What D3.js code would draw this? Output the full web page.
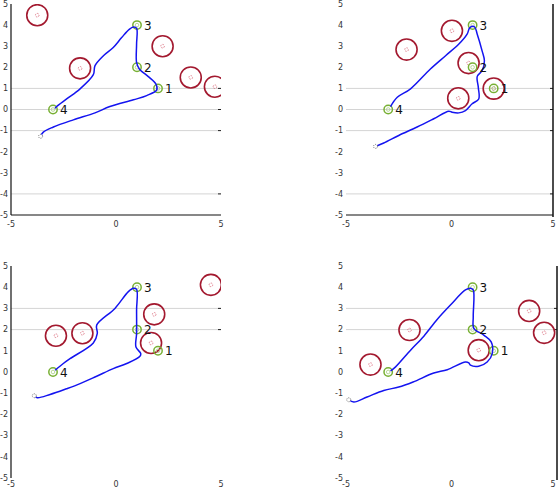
<!DOCTYPE html>
<html>
<head>
<meta charset="utf-8">
<script src="https://cdn.jsdelivr.net/npm/d3@7"></script>
<style>
  body { margin: 0; background: #fff; }
  svg { display: block; }
</style>
</head>
<body>
<div id="chart"></div>
<script>
// waypoints shared by all four runs
const waypoints = [[2, 1], [1, 2], [1, 4], [-3, 0]];
const waypointLabels = ["1", "2", "3", "4"];

const xTicks = [-5, 0, 5];
const yTicks = [5, 4, 3, 2, 1, 0, -1, -2, -3, -4, -5];

// obstacles (centre x, y) per panel
const obstaclesA = [[-3.75, 4.47], [-1.71, 1.95], [2.22, 3.0], [3.56, 1.52], [4.71, 1.08]];
const obstaclesB = [[-2.13, 2.84], [0.02, 3.73], [0.81, 2.2], [2.0, 0.99], [0.32, 0.53]];
const obstaclesC = [[4.52, 4.11], [1.82, 2.72], [1.67, 1.37], [-1.6, 1.83], [-2.86, 1.71]];
const obstaclesD = [[-3.84, 0.35], [-1.99, 1.98], [1.29, 1.03], [3.68, 2.88], [4.39, 1.85]];

// flown trajectory per panel
const pathA = [[-3.59, -1.27], [-3.46, -1.07], [-2.98, -0.83], [-2.03, -0.49], [-1.0, -0.16], [-0.29, 0.14],
  [0.83, 0.46], [1.46, 0.66], [1.94, 0.93], [1.90, 1.21], [1.54, 1.56], [1.11, 1.92], [0.98, 2.23],
  [0.98, 3.1], [0.98, 3.85], [0.83, 3.91], [0.63, 3.80], [0.27, 3.41], [-0.13, 2.94], [-0.6, 2.55],
  [-1.0, 2.08], [-1.08, 1.65], [-1.71, 0.98], [-2.35, 0.5], [-2.83, 0.14], [-2.9, 0.05]];
const pathB = [[-3.6, -1.75], [-3.21, -1.59], [-2.5, -1.23], [-1.63, -0.83], [-0.84, -0.44], [-0.13, -0.08],
  [0.03, -0.13], [0.35, -0.16], [0.66, -0.05], [0.98, 0.27], [1.29, 0.5], [1.27, 1.05], [1.22, 1.57],
  [1.45, 1.84], [1.56, 2.31], [1.45, 2.78], [1.22, 3.57], [1.09, 3.92], [0.87, 3.88], [0.74, 3.57],
  [0.35, 3.1], [-0.28, 2.55], [-1.0, 1.92], [-1.94, 0.98], [-2.57, 0.58], [-2.89, 0.14]];
const pathC = [[-3.89, -1.12], [-3.75, -1.21], [-3.14, -1.06], [-2.35, -0.79], [-1.71, -0.55], [-0.92, -0.2],
  [-0.13, 0.16], [0.51, 0.4], [1.14, 0.74], [1.18, 0.87], [0.95, 1.18], [0.98, 1.82], [0.98, 2.92],
  [0.98, 3.9], [0.83, 3.95], [0.59, 3.79], [-0.05, 3.0], [-0.92, 2.21], [-0.89, 1.82], [-1.08, 1.37],
  [-2.19, 0.63], [-2.51, 0.4], [-2.9, 0.08]];
const pathD = [[-4.87, -1.31], [-4.63, -1.42], [-4.0, -1.18], [-3.21, -0.87], [-2.5, -0.71], [-1.82, -0.47],
  [-0.84, -0.05], [-0.2, 0.11], [0.66, 0.47], [0.82, 0.43], [0.9, 0.32], [1.29, 0.27], [1.69, 0.47],
  [1.93, 0.87], [1.88, 1.42], [1.53, 1.74], [1.06, 2.06], [1.03, 2.61], [1.03, 3.87], [0.9, 3.95],
  [0.66, 3.87], [-0.05, 3.16], [-0.68, 2.48], [-1.31, 1.69], [-1.94, 1.03], [-2.65, 0.24], [-2.89, 0.05]];

const gridA = [1, 0, -1, -4];
const gridC = [3, 2];

const panels = [
  { id: "a", x: [11, 221], y: [215, 4], obstacles: obstaclesA, path: pathA, grid: gridA,
    left: true, bottom: true, right: false, gridEnd: 221, labY: 227 },
  { id: "b", x: [346, 557], y: [215, 4], obstacles: obstaclesB, path: pathB, grid: gridA,
    left: false, bottom: true, right: 553, gridEnd: 553, labY: 227 },
  { id: "c", x: [11, 221], y: [478, 266], obstacles: obstaclesC, path: pathC, grid: gridC,
    left: true, bottom: false, right: false, gridEnd: 221, labY: 487 },
  { id: "d", x: [346, 557], y: [478, 266], obstacles: obstaclesD, path: pathD, grid: gridC,
    left: false, bottom: false, right: 557, gridEnd: 557, labY: 487 }
];

const font = "'DejaVu Sans', sans-serif";

const svg = d3.select("#chart").append("svg")
  .attr("width", 558)
  .attr("height", 488);

panels.forEach(p => {
  const x = d3.scaleLinear().domain([-5, 5]).range(p.x);
  const y = d3.scaleLinear().domain([-5, 5]).range(p.y);
  const g = svg.append("g");

  g.append("clipPath").attr("id", "clip-" + p.id)
    .append("rect")
    .attr("x", p.x[0]).attr("y", p.y[1])
    .attr("width", p.gridEnd - p.x[0]).attr("height", p.y[0] - p.y[1]);

  // grid lines with a short dark tick at the right end
  g.selectAll(".grid").data(p.grid).enter().append("line")
    .attr("x1", p.x[0]).attr("x2", p.gridEnd)
    .attr("y1", d => y(d)).attr("y2", d => y(d))
    .attr("stroke", "#d4d4d4").attr("stroke-width", 1);
  g.selectAll(".gtick").data(p.grid).enter().append("line")
    .attr("x1", p.gridEnd - 3).attr("x2", p.gridEnd)
    .attr("y1", d => y(d)).attr("y2", d => y(d))
    .attr("stroke", "#222").attr("stroke-width", 1);

  // spines
  if (p.left) g.append("line").attr("x1", p.x[0]).attr("x2", p.x[0])
    .attr("y1", p.y[1]).attr("y2", p.y[0]).attr("stroke", "#111").attr("stroke-width", 1.2);
  if (p.bottom) g.append("line").attr("x1", p.x[0]).attr("x2", p.gridEnd)
    .attr("y1", p.y[0]).attr("y2", p.y[0]).attr("stroke", "#111").attr("stroke-width", 1.2);
  if (p.right) g.append("line").attr("x1", p.right).attr("x2", p.right)
    .attr("y1", p.y[1]).attr("y2", p.y[0] + 2).attr("stroke", "#111").attr("stroke-width", 1.5);

  // tick labels
  g.selectAll(".ylab").data(yTicks).enter().append("text")
    .attr("x", p.x[0] - 3).attr("y", d => y(d))
    .attr("dy", "0.35em").attr("text-anchor", "end")
    .style("font-family", font).style("font-size", "8px").style("fill", "#333")
    .text(d => d < 0 ? "-" + Math.abs(d) : d);
  g.selectAll(".xlab").data(xTicks).enter().append("text")
    .attr("x", d => Math.min(x(d), 553)).attr("y", p.labY)
    .attr("text-anchor", "middle")
    .style("font-family", font).style("font-size", "8px").style("fill", "#333")
    .text(d => d < 0 ? "-" + Math.abs(d) : d);

  const plot = g.append("g").attr("clip-path", "url(#clip-" + p.id + ")");

  // obstacles
  const r = x(0.5) - x(0);
  plot.selectAll(".obs").data(p.obstacles).enter().append("circle")
    .attr("cx", d => x(d[0])).attr("cy", d => y(d[1])).attr("r", r)
    .attr("fill", "none").attr("stroke", "#a3192f").attr("stroke-width", 1.6);
  plot.selectAll(".obsc").data(p.obstacles).enter().append("circle")
    .attr("cx", d => x(d[0])).attr("cy", d => y(d[1])).attr("r", 1.8)
    .attr("fill", "none").attr("stroke", "#d96a7a").attr("stroke-width", 0.8)
    .attr("stroke-dasharray", "1.5,1");

  // waypoints
  plot.selectAll(".wp").data(waypoints).enter().append("circle")
    .attr("cx", d => x(d[0])).attr("cy", d => y(d[1])).attr("r", 4.2)
    .attr("fill", "none").attr("stroke", "#78b034").attr("stroke-width", 1.5);
  plot.selectAll(".wpc").data(waypoints).enter().append("circle")
    .attr("cx", d => x(d[0])).attr("cy", d => y(d[1])).attr("r", 1.8)
    .attr("fill", "none").attr("stroke", "#a8cf80").attr("stroke-width", 0.8);

  // trajectory
  plot.append("path").datum(p.path)
    .attr("d", d3.line().x(d => x(d[0])).y(d => y(d[1])).curve(d3.curveCatmullRom.alpha(0.5)))
    .attr("fill", "none").attr("stroke", "#1414f0").attr("stroke-width", 1.5);

  // start marker
  plot.append("circle")
    .attr("cx", x(p.path[0][0])).attr("cy", y(p.path[0][1])).attr("r", 2)
    .attr("fill", "#fff").attr("stroke", "#555").attr("stroke-width", 0.8)
    .attr("stroke-dasharray", "1,1");

  // waypoint numbers
  g.selectAll(".wlab").data(waypoints).enter().append("text")
    .attr("x", d => x(d[0]) + 7).attr("y", d => y(d[1]))
    .attr("dy", "0.38em")
    .style("font-family", font).style("font-size", "12px").style("fill", "#111")
    .text((d, i) => waypointLabels[i]);
});
</script>
</body>
</html>
